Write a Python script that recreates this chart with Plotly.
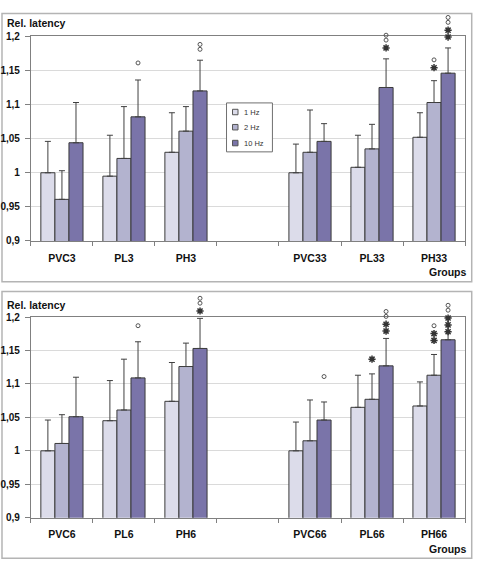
import plotly.graph_objects as go

# ---------------- data ----------------
series_names = ["1 Hz", "2 Hz", "10 Hz"]
series_colors = ["#dcdcea", "#b3b3cf", "#7a74a9"]

cats_top = ["PVC3", "PL3", "PH3", "", "PVC33", "PL33", "PH33"]
top_1hz = [1.000, 0.995, 1.030, None, 1.000, 1.008, 1.052]
top_2hz = [0.961, 1.021, 1.061, None, 1.030, 1.035, 1.103]
top_10hz = [1.044, 1.082, 1.120, None, 1.046, 1.125, 1.146]
top_err_1hz = [0.046, 0.060, 0.058, 0, 0.042, 0.047, 0.036]
top_err_2hz = [0.042, 0.076, 0.036, 0, 0.062, 0.036, 0.032]
top_err_10hz = [0.059, 0.054, 0.045, 0, 0.026, 0.042, 0.037]

cats_bot = ["PVC6", "PL6", "PH6", "", "PVC66", "PL66", "PH66"]
bot_1hz = [1.000, 1.045, 1.074, None, 1.000, 1.065, 1.067]
bot_2hz = [1.011, 1.061, 1.126, None, 1.015, 1.077, 1.113]
bot_10hz = [1.051, 1.109, 1.153, None, 1.046, 1.127, 1.166]
bot_err_1hz = [0.046, 0.060, 0.058, 0, 0.043, 0.048, 0.036]
bot_err_2hz = [0.043, 0.076, 0.035, 0, 0.061, 0.038, 0.031]
bot_err_10hz = [0.059, 0.054, 0.045, 0, 0.027, 0.041, 0.034]

# significance marks: (category index, series index, symbols bottom->top, level of lowest symbol)
top_sig = [(1, 2, "o", 1.161), (2, 2, "oo", 1.181), (5, 2, "*oo", 1.183),
           (6, 1, "*o", 1.154), (6, 2, "**oo", 1.199)]
bot_sig = [(1, 2, "o", 1.187), (2, 2, "*oo", 1.209), (4, 2, "o", 1.111),
           (5, 1, "*", 1.137), (5, 2, "**oo", 1.179), (6, 1, "**o", 1.165),
           (6, 2, "***oo", 1.178)]

y_ticks = [0.9, 0.95, 1.0, 1.05, 1.1, 1.15, 1.2]

# ---------------- layout geometry (pixels) ----------------
W, H = 479, 571
PX_L, PX_R = 30, 465
TOP_Y0, TOP_Y1 = 31, 240       # pixel rows of 1.2 and 0.9
BOT_Y0, BOT_Y1 = 317.7, 522.7
TOP_FRAME = (7.7, 281.7)
BOT_FRAME = (291.7, 564)
BARGAP = 0.32
FONT = "Liberation Sans, Arial, sans-serif"


def py(p):
    return 1 - p / H


def px(p):
    return p / W


fig = go.Figure()

charts = [
    ("x", "y", "y3", cats_top, [top_1hz, top_2hz, top_10hz],
     [top_err_1hz, top_err_2hz, top_err_10hz], top_sig, TOP_Y0, TOP_Y1, TOP_FRAME),
    ("x2", "y2", "y4", cats_bot, [bot_1hz, bot_2hz, bot_10hz],
     [bot_err_1hz, bot_err_2hz, bot_err_10hz], bot_sig, BOT_Y0, BOT_Y1, BOT_FRAME),
]

bw = (1 - BARGAP) / 3
extra_axes = {}
for xa, ya, ya_sig, cats, vals, errs, sig, y0, y1, frame in charts:
    xs = list(range(len(cats)))
    for k in range(3):
        fig.add_trace(go.Bar(
            x=xs, y=vals[k], xaxis=xa, yaxis=ya, name=series_names[k],
            marker=dict(color=series_colors[k], line=dict(color="#3a3a3a", width=1)),
            error_y=dict(type="data", symmetric=False, array=errs[k],
                         arrayminus=[0] * len(cats), color="#404040",
                         thickness=1, width=3),
            showlegend=False,
        ))
    ppu = (y1 - y0) / (1.2 - 0.9)
    # invisible taller axis sharing the same scale, so marks above 1,2 are drawn
    sig_top_px = frame[0] + 1
    extra_axes[ya_sig] = dict(
        domain=[py(y1), py(sig_top_px)], anchor=xa, visible=False,
        range=[0.9, 0.9 + (y1 - sig_top_px) / ppu], fixedrange=True,
    )
    cx, cy, sx, sy = [], [], [], []
    for ci, si, syms, lvl in sig:
        xpos = ci + (si - 1) * bw
        off = 0.0
        prev = None
        for s in syms:
            if prev is not None:
                if prev == "*" and s == "*":
                    off += 7
                elif prev == "*" and s == "o":
                    off += 8
                else:
                    off += 5
            yv = lvl + off / ppu
            if s == "*":
                sx.append(xpos); sy.append(yv)
            else:
                cx.append(xpos); cy.append(yv)
            prev = s
    fig.add_trace(go.Scatter(x=sx, y=sy, xaxis=xa, yaxis=ya_sig, mode="markers",
                             marker=dict(symbol="asterisk-open", size=6, color="#333333",
                                         line=dict(color="#333333", width=1.5)),
                             cliponaxis=False, showlegend=False, hoverinfo="skip"))
    fig.add_trace(go.Scatter(x=cx, y=cy, xaxis=xa, yaxis=ya_sig, mode="markers",
                             marker=dict(symbol="circle-open", size=4, color="#555555",
                                         line=dict(color="#555555", width=1)),
                             cliponaxis=False, showlegend=False, hoverinfo="skip"))

axis_common_x = dict(
    range=[-0.5, 6.5], tickmode="array", tickvals=list(range(7)),
    ticks="", showgrid=False, zeroline=False,
    showline=True, linecolor="#808080", linewidth=1, mirror=True,
    tickfont=dict(family=FONT, size=10.5, color="#111111", weight="bold"),
    ticklabelstandoff=7,
    minor=dict(tick0=-0.5, dtick=1, ticks="outside", ticklen=4, tickcolor="#808080",
               showgrid=False),
)
axis_common_y = dict(
    range=[0.9, 1.2], tickmode="array", tickvals=y_ticks,
    ticks="outside", ticklen=5, tickcolor="#808080",
    showgrid=True, gridcolor="#dadada", gridwidth=1, zeroline=False,
    showline=True, linecolor="#808080", linewidth=1, mirror=True,
    tickfont=dict(family=FONT, size=10, color="#111111", weight="bold"),
    ticklabelstandoff=3,
)

fig.update_layout(
    width=W, height=H, margin=dict(l=0, r=0, t=0, b=0),
    paper_bgcolor="white", plot_bgcolor="rgba(0,0,0,0)",
    barmode="group", bargap=BARGAP, bargroupgap=0,
    separators=",.", showlegend=False,
    xaxis=dict(axis_common_x, domain=[px(PX_L), px(PX_R)], anchor="y", ticktext=cats_top),
    yaxis=dict(axis_common_y, domain=[py(TOP_Y1), py(TOP_Y0)], anchor="x"),
    xaxis2=dict(axis_common_x, domain=[px(PX_L), px(PX_R)], anchor="y2", ticktext=cats_bot),
    yaxis2=dict(axis_common_y, domain=[py(BOT_Y1), py(BOT_Y0)], anchor="x2"),
    yaxis3=extra_axes["y3"],
    yaxis4=extra_axes["y4"],
)

shapes = []
annotations = []
# outer frames
for fy0, fy1 in [TOP_FRAME, BOT_FRAME]:
    shapes.append(dict(type="rect", xref="paper", yref="paper",
                       x0=px(1), x1=px(471.7), y0=py(fy1), y1=py(fy0),
                       line=dict(color="#b4b4b4", width=1.5), layer="below"))
# titles
for ty, gy in [(17, 272), (305, 555)]:
    annotations.append(dict(text="Rel. latency", xref="paper", yref="paper",
                            x=px(4), y=py(ty), xanchor="left", yanchor="middle",
                            showarrow=False,
                            font=dict(family=FONT, size=10.5, color="#111111", weight="bold")))
    annotations.append(dict(text="Groups", xref="paper", yref="paper",
                            x=px(468), y=py(gy), xanchor="right", yanchor="middle",
                            showarrow=False,
                            font=dict(family=FONT, size=10.5, color="#111111", weight="bold")))
# manual legend (top chart)
shapes.append(dict(type="rect", xref="paper", yref="paper",
                   x0=px(226), x1=px(272), y0=py(149), y1=py(99),
                   line=dict(color="#707070", width=1), fillcolor="white"))
for k, ry in enumerate([108.3, 123.8, 140]):
    shapes.append(dict(type="rect", xref="paper", yref="paper",
                       x0=px(232), x1=px(237.5), y0=py(ry + 2.8), y1=py(ry - 2.8),
                       line=dict(color="#555555", width=1), fillcolor=series_colors[k]))
    annotations.append(dict(text=series_names[k], xref="paper", yref="paper",
                            x=px(241.5), y=py(ry), xanchor="left", yanchor="middle",
                            showarrow=False,
                            font=dict(family=FONT, size=7.5, color="#333333")))

fig.update_layout(shapes=shapes, annotations=annotations)

fig.write_html("out.html")
